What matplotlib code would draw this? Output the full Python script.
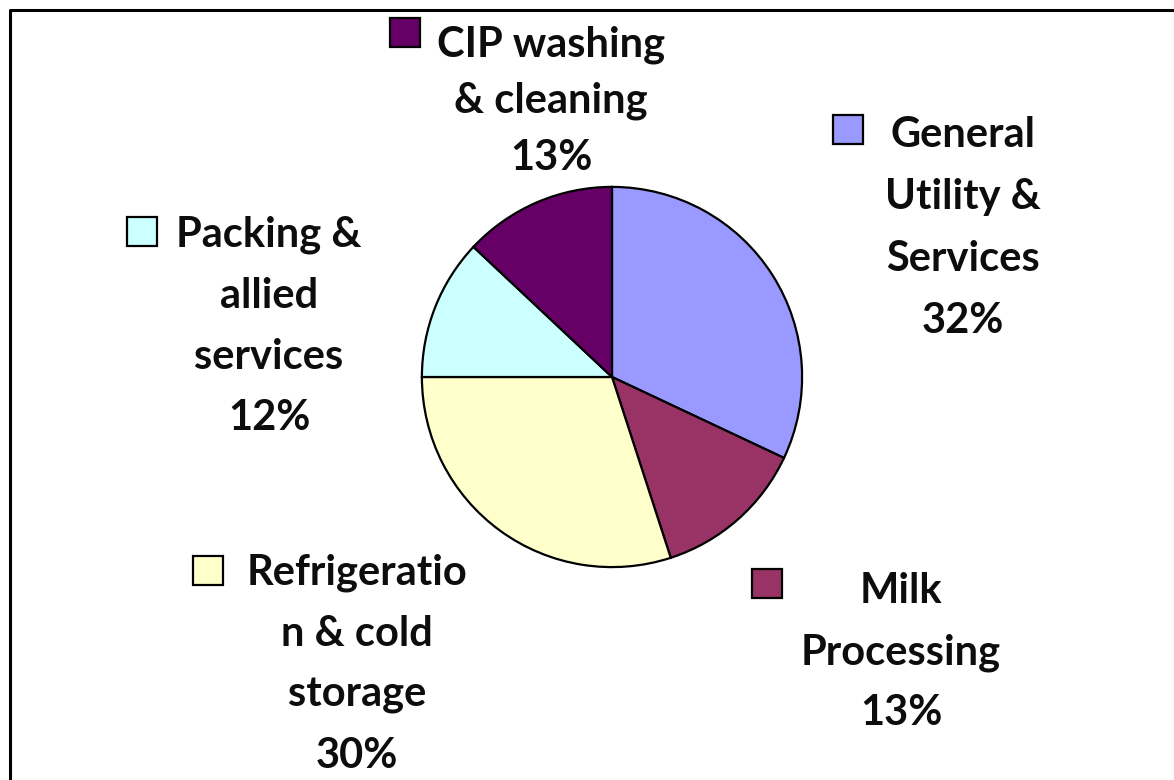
import matplotlib
matplotlib.use("Agg")
import matplotlib.pyplot as plt
from matplotlib.lines import Line2D
from matplotlib.patches import Rectangle

# energy share by section (%), clockwise from 12 o'clock
categories = ["General\nUtility &\nServices", "Milk\nProcessing",
              "Refrigeratio\nn & cold\nstorage", "Packing &\nallied\nservices",
              "CIP washing\n& cleaning"]
shares = [32, 13, 30, 12, 13]
colors = ["#9999FF", "#993366", "#FFFFCC", "#CCFFFF", "#660066"]

W, H = 1174, 780
plt.rcParams['font.family'] = ['Lato', 'DejaVu Sans']

fig = plt.figure(figsize=(W / 100, H / 100), dpi=100)
fig.patch.set_facecolor("white")

# pie centred at (612, 377) px, radius 192 px
cx, cy, r = 612, 377, 192
ax = fig.add_axes([(cx - r) / W, (H - cy - r) / H, 2 * r / W, 2 * r / H])
ax.pie(shares, colors=colors, startangle=90, counterclock=False,
       radius=1.0, wedgeprops=dict(edgecolor="black", linewidth=1.6))
ax.set_xlim(-1.01, 1.01)
ax.set_ylim(-1.01, 1.01)
ax.set_aspect("equal")
ax.axis("off")

# label blocks: text centre x, first baseline y, line step, legend key top-left
label_pos = [
    (963, 147, 62, (833, 115)),
    (901, 603, 61, (752, 569)),
    (357, 585, 61, (193, 556)),
    (269, 247, 61, (127, 217)),
    (551, 56, 57, (390, 18)),
]

def px(x, y):
    return x / W, 1 - y / H

for name, val, col, (tx, by, step, (kx, ky)) in zip(categories, shares, colors, label_pos):
    lines = name.split("\n") + [f"{val}%"]
    for i, line in enumerate(lines):
        fig.text(*px(tx, by + i * step), line, ha="center", va="baseline",
                 fontsize=30, fontweight="bold", color="#0d0d0d")
    kw, kh = 30, 29
    fig.patches.append(Rectangle(px(kx, ky + kh), kw / W, kh / H,
                                 transform=fig.transFigure, facecolor=col,
                                 edgecolor="black", linewidth=1.6))

# chart frame (left and top edges visible)
fig.add_artist(Line2D([10 / W, 10 / W, 1.0], [0.0, 1 - 10 / H, 1 - 10 / H],
                      transform=fig.transFigure, color="black", linewidth=2.2))

fig.savefig("out.png", dpi=100, facecolor="white")
